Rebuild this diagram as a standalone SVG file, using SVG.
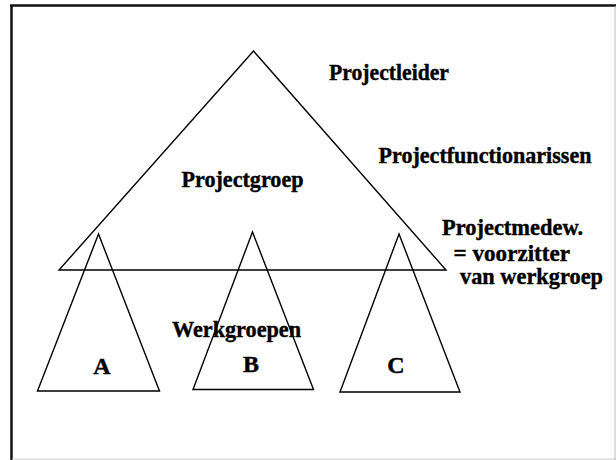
<svg xmlns="http://www.w3.org/2000/svg" width="616" height="460" viewBox="0 0 616 460">
<style>
.tri{fill:none;stroke:#000;stroke-width:1.4;stroke-linejoin:miter}
.t{font-family:'Liberation Serif','Times New Roman',serif;font-weight:bold;font-size:24px;fill:#000;stroke:#000;stroke-width:0.4}
.s{font-size:23px}
.l{font-family:'Liberation Serif','Times New Roman',serif;font-weight:bold;font-size:24px;fill:#000;stroke:#000;stroke-width:0.4;text-anchor:middle}
</style>
<rect x="0" y="0" width="616" height="460" fill="#fff"/>
<g id="frame">
<line x1="11.5" y1="5.5" x2="11.5" y2="460" stroke="#111" stroke-width="2.5"/>
<line x1="10" y1="5.5" x2="616" y2="5.5" stroke="#111" stroke-width="2.5"/>
<line x1="615" y1="6" x2="615" y2="460" stroke="#bbb" stroke-width="1"/>
<line x1="12" y1="459" x2="616" y2="459" stroke="#ccc" stroke-width="1"/>
</g>
<g id="projectgroep">
<polygon class="tri" points="253.5,51 59,270 446,270"/>
<text class="t" x="181.5" y="187" textLength="122" lengthAdjust="spacingAndGlyphs">Projectgroep</text>
</g>
<g id="werkgroep-a">
<polygon class="tri" points="98.5,234 37.5,391 159.5,391"/>
<text class="l" x="102" y="374">A</text>
</g>
<g id="werkgroep-b">
<polygon class="tri" points="252.5,232 193,389.5 313.5,389.5"/>
<text class="l" x="251" y="372">B</text>
</g>
<g id="werkgroep-c">
<polygon class="tri" points="399,234 340,392 460,392"/>
<text class="l" x="396" y="373">C</text>
</g>
<g id="labels">
<text class="t" x="329" y="80" textLength="120" lengthAdjust="spacingAndGlyphs">Projectleider</text>
<text class="t" x="378.5" y="163" textLength="213" lengthAdjust="spacingAndGlyphs">Projectfunctionarissen</text>
<text class="t s" x="442" y="235" textLength="141" lengthAdjust="spacingAndGlyphs">Projectmedew.</text>
<text class="t s" x="453.5" y="261" textLength="116.5" lengthAdjust="spacingAndGlyphs">= voorzitter</text>
<text class="t s" x="460" y="284" textLength="143" lengthAdjust="spacingAndGlyphs">van werkgroep</text>
<text class="t" x="172" y="337" textLength="129" lengthAdjust="spacingAndGlyphs">Werkgroepen</text>
</g>
<g id="connectors"></g>
</svg>
